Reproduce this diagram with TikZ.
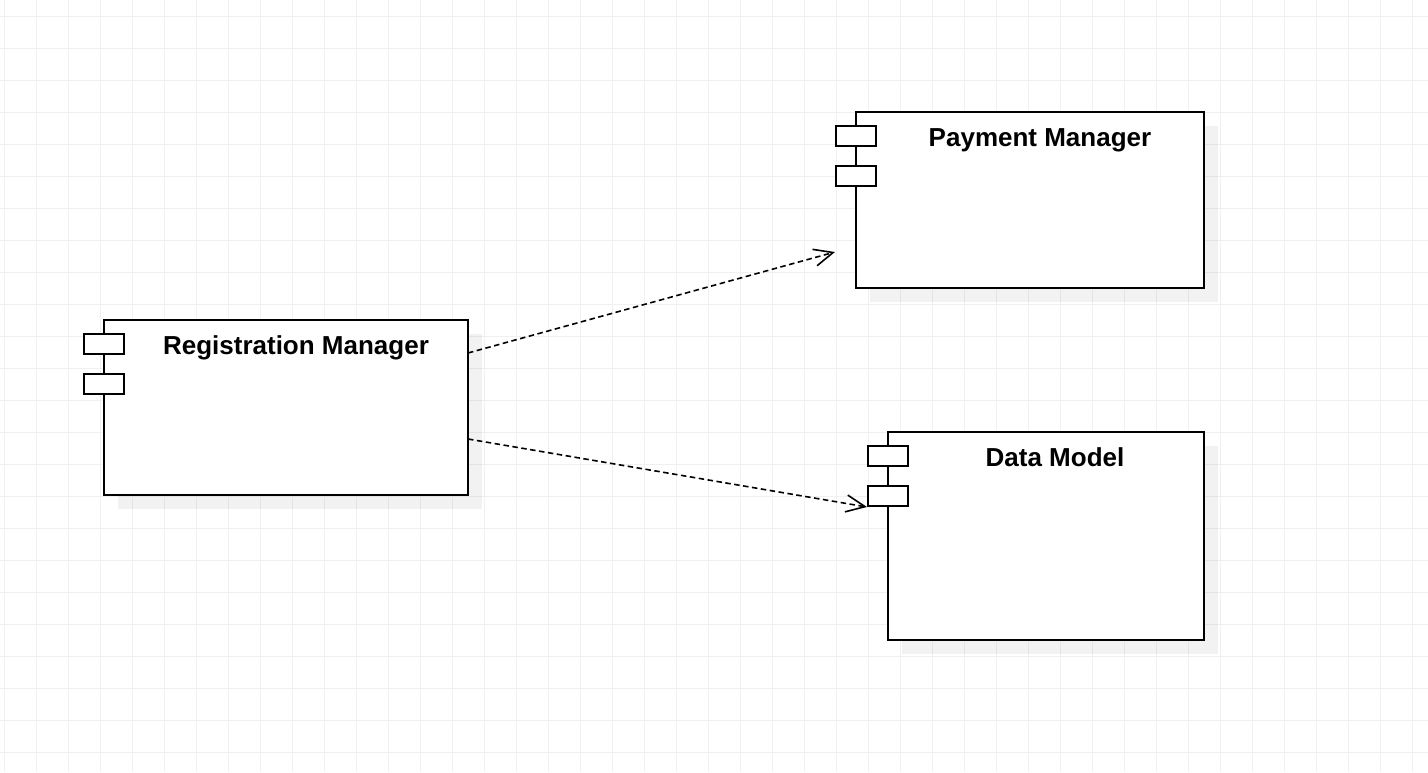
\documentclass[tikz,border=0pt]{standalone}
\usepackage{fontspec}
\setmainfont{Liberation Sans}
\usetikzlibrary{arrows.meta}
\definecolor{gridc}{HTML}{F0F0F0}
\begin{document}
\begin{tikzpicture}[x=1pt,y=-1pt,
 comp/.style={draw=black,line width=2pt,fill=white,rectangle,inner sep=0pt,outer sep=0pt,anchor=north west},
 port/.style={draw=black,line width=2pt,fill=white,rectangle,inner sep=0pt,outer sep=0pt,minimum width=40pt,minimum height=20pt},
 shade/.style={fill=black,fill opacity=0.05},
 lbl/.style={font=\bfseries\fontsize{26}{31}\selectfont,anchor=base,inner sep=0pt},
 dep/.style={line width=1.6pt,dash pattern=on 5.5pt off 3.5pt,-{Straight Barb[length=19pt,width=17pt]}}
]
\useasboundingbox (0,0) rectangle (1428,772);
\fill[white] (0,0) rectangle (1428,772);
\foreach \gx in {4,36,...,1428} \draw[gridc,line width=1pt] (\gx,0) -- (\gx,772);
\foreach \gy in {16,48,...,772} \draw[gridc,line width=1pt] (0,\gy) -- (1428,\gy);

% shadows
\fill[shade] (118,334) rectangle (482,509);
\fill[shade] (870,126) rectangle (1218,302);
\fill[shade] (902,446) rectangle (1218,654);

% components
\node[comp,minimum width=364pt,minimum height=175pt] (reg) at (104,320) {};
\node[port] (regp1) at (104,344) {};
\node[port] (regp2) at (104,384) {};
\node[lbl] (regl) at (296,354) {Registration Manager};

\node[comp,minimum width=348pt,minimum height=176pt] (pay) at (856,112) {};
\node[port] (payp1) at (856,136) {};
\node[port] (payp2) at (856,176) {};
\node[lbl] (payl) at (1040,146) {Payment Manager};

\node[comp,minimum width=316pt,minimum height=208pt] (data) at (888,432) {};
\node[port] (datap1) at (888,456) {};
\node[port] (datap2) at (888,496) {};
\node[lbl] (datal) at (1055,466) {Data Model};

% connectors
\coordinate (r1) at (468,353);
\coordinate (t1) at (835,252);
\coordinate (r2) at (468,439);
\coordinate (t2) at (867,507);
\draw[dep] (r1) -- (t1);
\draw[dep] (r2) -- (t2);
\end{tikzpicture}
\end{document}
